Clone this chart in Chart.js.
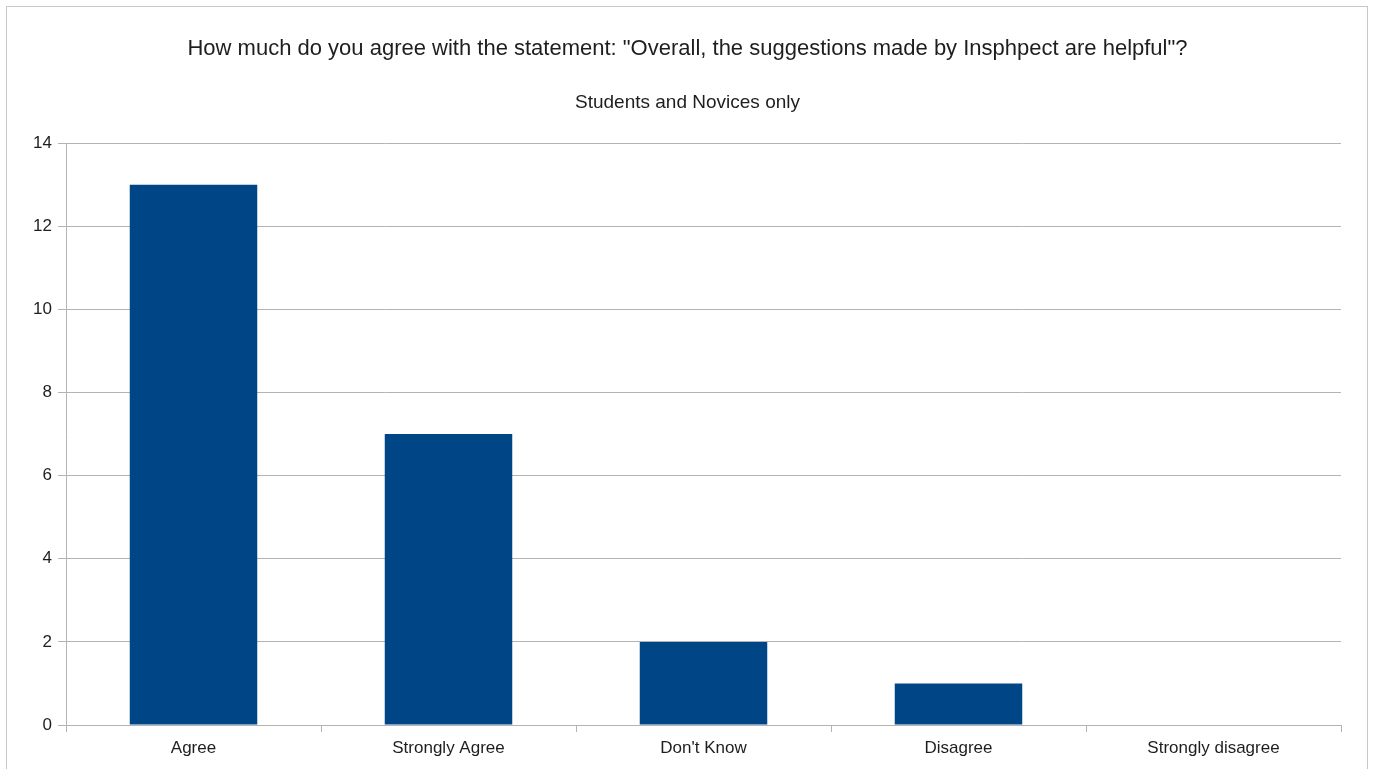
<!DOCTYPE html>
<html>
<head>
<meta charset="utf-8">
<script src="https://cdn.jsdelivr.net/npm/chart.js@4"></script>
<style>
  html, body { margin: 0; padding: 0; background: #fff; overflow: hidden; }
  #wrap { position: relative; width: 1375px; height: 769px; }
  #frame { position: absolute; left: 6px; top: 6px; width: 1360px; height: 800px; border: 1px solid #c8c8c8; pointer-events: none; }
  canvas { position: absolute; left: 0; top: 0; }
</style>
</head>
<body>
<div id="wrap">
  <canvas id="surveyChart" width="1375" height="769"></canvas>
  <div id="frame"></div>
</div>
<script>
// Survey answers
const answers = ['Agree', 'Strongly Agree', "Don't Know", 'Disagree', 'Strongly disagree'];
const counts = [13, 7, 2, 1, 0];
const yTicks = [0, 2, 4, 6, 8, 10, 12, 14];

const gridGray = '#b3b3b3';
const textColor = '#1e1e1e';
Chart.defaults.font.family = '"Liberation Sans", Arial, sans-serif';
Chart.defaults.color = textColor;

const ctx = document.getElementById('surveyChart').getContext('2d');
const surveyChart = new Chart(ctx, {
    type: 'bar',
    data: {
        labels: answers,
        datasets: [{
            label: 'Responses',
            data: counts,
            backgroundColor: '#004586',
            borderWidth: 0,
            barPercentage: 0.5,
            categoryPercentage: 1.0
        }]
    },
    options: {
        responsive: false,
        animation: false,
        layout: { padding: { left: 34, right: 34, top: 0, bottom: 0 } },
        plugins: {
            legend: { display: false },
            tooltip: { enabled: false },
            title: {
                display: true,
                text: 'How much do you agree with the statement: "Overall, the suggestions made by Insphpect are helpful"?',
                font: { size: 22, weight: 'normal' },
                color: textColor,
                padding: { top: 36, bottom: 29 }
            },
            subtitle: {
                display: true,
                text: 'Students and Novices only',
                font: { size: 19, weight: 'normal' },
                color: textColor,
                padding: { top: 0, bottom: 29 }
            }
        },
        scales: {
            x: {
                offset: true,
                grid: {
                    offset: true,
                    drawOnChartArea: true,
                    // only the closing line on the right edge of the plot
                    color: c => (c.index === answers.length ? gridGray : 'rgba(0,0,0,0)'),
                    tickColor: gridGray,
                    tickLength: 7,
                    lineWidth: 1
                },
                border: { color: gridGray },
                ticks: { font: { size: 17 }, color: textColor, padding: 6, maxRotation: 0 },
                afterFit: s => { s.height = 44; }
            },
            y: {
                min: 0,
                max: 14,
                afterBuildTicks: s => { s.ticks = yTicks.map(v => ({ value: v })); },
                grid: { color: gridGray, tickColor: gridGray, tickLength: 8 },
                border: { color: gridGray },
                ticks: { font: { size: 17 }, color: textColor, padding: 6 },
                afterFit: s => { s.width = 32; }
            }
        }
    }
});
</script>
</body>
</html>
